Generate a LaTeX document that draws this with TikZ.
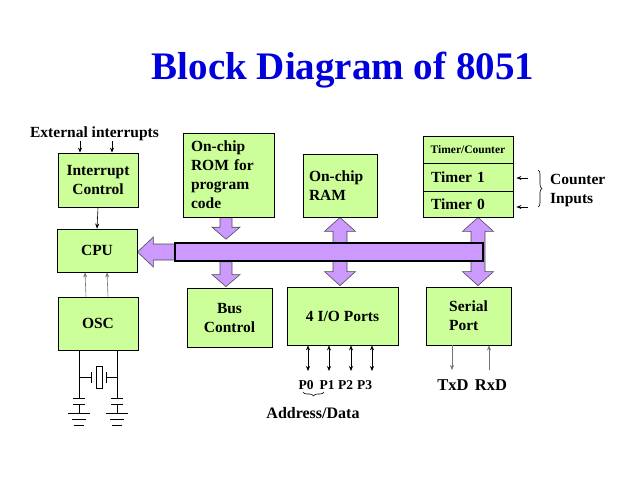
\documentclass[tikz,border=0pt]{standalone}
\usepackage{fontspec}
\setmainfont{Liberation Serif}
\usetikzlibrary{calc,backgrounds,decorations.pathreplacing,arrows.meta}

\definecolor{boxgreen}{RGB}{204,255,153}
\definecolor{buspurple}{RGB}{204,153,255}
\definecolor{titleblue}{RGB}{0,0,220}

\tikzset{
  block/.style={draw,fill=boxgreen,line width=0.8pt,align=center,inner sep=2pt,
    font=\fontsize{15.5}{19}\selectfont\bfseries},
  fatarrow/.style={draw=black!70,fill=buspurple,line width=0.6pt},
  thinarrow/.style={-{Stealth[length=5pt,width=4pt]},line width=0.6pt},
  lbl/.style={font=\fontsize{15.5}{19}\selectfont\bfseries,inner sep=0pt},
}

% fat arrows between blocks and the bus
\newcommand\fatdown[2]{%
  \path[fatarrow] let \p1=#1, \p2=#2 in
    (\x1-6pt,\y1) -- (\x1-6pt,\y2+12pt) -- ++(-8pt,0) -- (\x2,\y2)
    -- (\x1+14pt,\y2+12pt) -- ++(-8pt,0) -- (\x1+6pt,\y1) -- cycle;}
\newcommand\fatboth[2]{%
  \path[fatarrow] let \p1=#1, \p2=#2 in
    (\x1,\y1) -- ++(15.5pt,-14pt) -- ++(-8.5pt,0) -- (\x1+7pt,\y2+14pt) -- ++(8.5pt,0)
    -- (\x1,\y2) -- ++(-15.5pt,14pt) -- ++(8.5pt,0) -- (\x1-7pt,\y1-14pt) -- ++(-8.5pt,0) -- cycle;}
\newcommand\fatleft[2]{%
  \path[fatarrow] let \p1=#1, \p2=#2 in
    (\x1,\y1+8pt) -- (\x2+16pt,\y1+8pt) -- ++(0,7pt) -- (\x2,\y1)
    -- (\x2+16pt,\y1-15pt) -- ++(0,7pt) -- (\x1,\y1-8pt) -- cycle;}

\begin{document}
\begin{tikzpicture}[x=1pt,y=-1pt]
  \useasboundingbox (0,0) rectangle (638,479);

  \node[font=\fontsize{39}{41}\selectfont\bfseries,text=titleblue,anchor=base] (title) at (343,79) {Block Diagram of 8051};

  % blocks
  \node[block,minimum width=80pt,minimum height=54pt] (intr) at (98,180) {Interrupt\\Control};
  \node[block,minimum width=80pt,minimum height=43pt] (cpu) at (97,250.5) {CPU};
  \node[block,minimum width=80pt,minimum height=53pt] (osc) at (98,323.5) {OSC};
  \node[block,minimum width=91pt,minimum height=84pt,align=left,inner xsep=8pt,text width=75pt] (rom) at (228.5,175) {On-chip\\ROM for\\program\\code};
  \node[block,minimum width=74pt,minimum height=63pt,align=left,inner xsep=6pt,text width=62pt] (ram) at (340,185.5) {On-chip\\RAM};
  \node[block,minimum width=90pt,minimum height=27pt,font=\fontsize{11.5}{13}\selectfont\bfseries] (tc) at (468,149.5) {Timer/Counter};
  \node[block,minimum width=90pt,minimum height=28pt,align=left,inner xsep=8pt,text width=74pt] (t1) at (468,177) {Timer 1};
  \node[block,minimum width=90pt,minimum height=26pt,align=left,inner xsep=8pt,text width=74pt] (t0) at (468,204) {Timer 0};
  \node[block,minimum width=85pt,minimum height=59pt] (busctl) at (229.5,317.5) {Bus\\Control};
  \node[block,minimum width=111pt,minimum height=58pt] (ports) at (342.5,316) {4 I/O Ports};
  \node[block,minimum width=85pt,minimum height=58pt,align=left] (serial) at (468.5,316) {Serial\\Port};

  % internal bus
  \node[draw,fill=buspurple,line width=1.6pt,minimum width=308pt,minimum height=18pt,inner sep=0pt] (bus) at (329,252) {};
  \begin{scope}[on background layer]
    \fatleft{([xshift=5pt]bus.west)}{(cpu.east)}
    \fatdown{([xshift=-2.5pt]rom.south)}{([xshift=-2.5pt,yshift=3pt]rom.south|-bus.north)}
    \fatdown{([xshift=-3.5pt]busctl.north|-bus.south)}{([xshift=-3.5pt,yshift=1pt]busctl.north)}
    \fatboth{(ram.south)}{([yshift=1pt]ram.south|-ports.north)}
    \fatboth{([xshift=10pt]t0.south)}{([xshift=10pt,yshift=1pt]t0.south|-serial.north)}
  \end{scope}

  % interrupts
  \node[lbl,anchor=base] (extint) at (94.5,137) {External interrupts};
  \coordinate (ei1) at (80,141);
  \coordinate (ei2) at (112,141);
  \draw[thinarrow] (ei1) -- (ei1|-intr.north);
  \draw[thinarrow] (ei2) -- (ei2|-intr.north);
  \draw[thinarrow] (intr.south) -- (cpu.north);
  \draw[thinarrow,black!55] ([xshift=-12pt]osc.north) -- ([xshift=-12pt]cpu.south);
  \draw[thinarrow,black!55] ([xshift=10pt]osc.north) -- ([xshift=10pt]cpu.south);

  % counter inputs
  \coordinate (ci1) at (528,178);
  \coordinate (ci2) at (528,207);
  \draw[thinarrow] (ci1) -- ([xshift=3pt]t1.east|-ci1);
  \draw[thinarrow] (ci2) -- ([xshift=3pt]t0.east|-ci2);
  \draw[line width=0.6pt,decorate,decoration={brace,amplitude=4pt}] (538,170) -- (538,207);
  \node[lbl,anchor=base west] (cntin) at (550,184) {Counter};
  \node[lbl,anchor=base west] (cntin2) at (550,203) {Inputs};

  % crystal and capacitors
  \foreach \cx in {79,117} {
    \draw[line width=0.8pt] (\cx,350) -- (\cx,398);
    \draw[line width=0.8pt] (\cx-6,398) -- (\cx+6,398);
    \draw[line width=0.8pt] (\cx-6,404) -- (\cx+6,404);
    \draw[line width=0.8pt] (\cx,404) -- (\cx,413);
    \draw[line width=0.8pt] (\cx-11,413) -- (\cx+11,413);
    \draw[line width=0.8pt] (\cx-7,419) -- (\cx+7,419);
    \draw[line width=0.8pt] (\cx-5,425) -- (\cx+5,425);
  }
  \draw[line width=0.8pt] (79,377) -- (91,377) (91,372) -- (91,383);
  \draw[line width=0.8pt] (96,366) rectangle (102,388);
  \draw[line width=0.8pt] (106,372) -- (106,383) (106,377) -- (117,377);

  % I/O ports
  \foreach \px/\lx [count=\i from 0] in {308/306,329/327,351/345.5,372/364.5} {
    \coordinate (p\i) at (\px,371);
    \draw[thinarrow,{Stealth[length=5pt,width=4pt]}-{Stealth[length=5pt,width=4pt]}] (ports.south-|p\i) -- (p\i);
    \node[lbl,anchor=base,font=\fontsize{13.5}{15}\selectfont\bfseries] (pl\i) at (\lx,389) {P\i};
  }
  \draw[line width=0.6pt,decorate,decoration={brace,amplitude=4pt}] (324,392) -- (303,392);
  \node[lbl,anchor=base,font=\fontsize{16}{19}\selectfont\bfseries] (addr) at (313,418) {Address/Data};

  % serial lines
  \coordinate (txd) at (452,370);
  \coordinate (rxd) at (489,370);
  \draw[thinarrow,black!55] (serial.south-|txd) -- (txd);
  \draw[thinarrow,black!55] (rxd) -- (serial.south-|rxd);
  \node[lbl,anchor=base,font=\fontsize{16.5}{19}\selectfont\bfseries] (txdl) at (453,390) {TxD};
  \node[lbl,anchor=base,font=\fontsize{16.5}{19}\selectfont\bfseries] (rxdl) at (491,390) {RxD};
\end{tikzpicture}
\end{document}
